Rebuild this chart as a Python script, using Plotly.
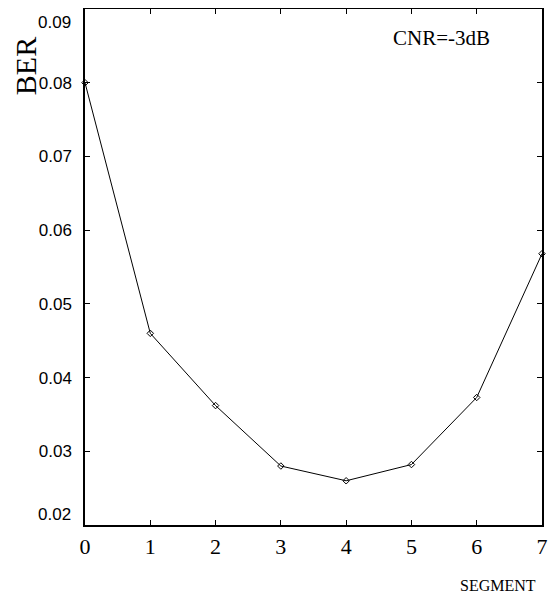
import plotly.graph_objects as go

segments = [0, 1, 2, 3, 4, 5, 6, 7]
ber = [0.0800, 0.0460, 0.0362, 0.0280, 0.0260, 0.0282, 0.0373, 0.0568]
y_ticks = [0.02, 0.03, 0.04, 0.05, 0.06, 0.07, 0.08, 0.09]
y_tick_labels = ["0.02", "0.03", "0.04", "0.05", "0.06", "0.07", "0.08", "0.09"]

serif = "Liberation Serif"
sans = "Liberation Sans Narrow, Liberation Sans"
ytick_font = dict(size=17, family=sans, color="black")

# end labels are drawn shifted inward (as in the reference), middle ones as normal tick labels
ticktext = [""] + y_tick_labels[1:-1] + [""]

fig = go.Figure()
fig.add_trace(go.Scatter(
    x=segments, y=ber, mode="lines+markers",
    line=dict(color="black", width=1),
    marker=dict(symbol="diamond-open", size=5, color="black", line=dict(width=1)),
    showlegend=False, cliponaxis=False,
))

annotations = [
    dict(text=y_tick_labels[-1], xref="paper", yref="y", x=0, y=y_ticks[-1],
         xanchor="right", yanchor="middle", xshift=-12, yshift=-13,
         showarrow=False, font=ytick_font),
    dict(text=y_tick_labels[0], xref="paper", yref="y", x=0, y=y_ticks[0],
         xanchor="right", yanchor="middle", xshift=-12, yshift=11,
         showarrow=False, font=ytick_font),
    dict(text="BER", xref="paper", yref="paper", x=-0.131, y=0.8895,
         textangle=-90, showarrow=False, font=dict(size=30, family=serif),
         xanchor="center", yanchor="middle"),
    dict(text="SEGMENT", xref="paper", yref="paper", x=0.9037, y=-0.118,
         showarrow=False, font=dict(size=16, family=serif),
         xanchor="center", yanchor="middle"),
    dict(text="CNR=-3dB", xref="paper", yref="paper", x=0.781, y=0.944,
         showarrow=False, font=dict(size=21, family=serif),
         xanchor="center", yanchor="middle"),
]

# page body has an 8px margin: figure is 8px smaller, left/top margins reduced by 8
fig.update_layout(
    width=548, height=589,
    margin=dict(l=77, r=14, t=1, b=72, autoexpand=False),
    plot_bgcolor="white", paper_bgcolor="white",
    font=dict(family=serif, color="black"),
    xaxis=dict(range=[0, 7], tickvals=segments, ticks="inside", ticklen=5,
               tickcolor="black", showline=True, linecolor="black", linewidth=1.5,
               mirror="ticks", showgrid=False, zeroline=False, automargin=False,
               ticklabeloverflow="allow",
               tickfont=dict(size=22, family=serif), ticklabelstandoff=1),
    yaxis=dict(range=[0.02, 0.09], tickvals=y_ticks, ticktext=ticktext,
               ticks="inside", ticklen=5, tickcolor="black", showline=True,
               linecolor="black", linewidth=1.5, mirror="ticks", showgrid=False,
               zeroline=False, automargin=False, ticklabeloverflow="allow",
               tickfont=ytick_font, ticklabelstandoff=8),
    annotations=annotations,
)

fig.write_html("out.html")
